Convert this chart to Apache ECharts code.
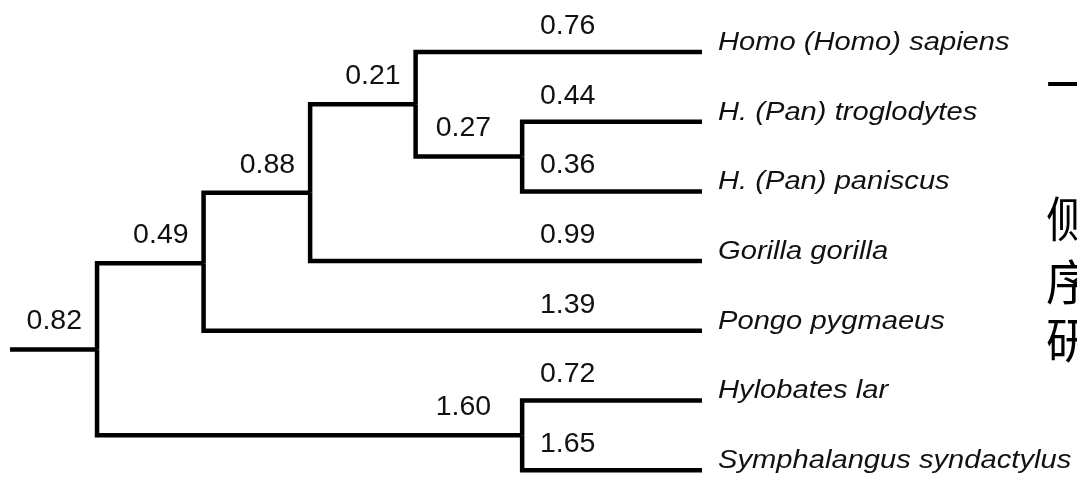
<!DOCTYPE html>
<html>
<head>
<meta charset="utf-8">
<script src="https://cdn.jsdelivr.net/npm/echarts@6/dist/echarts.min.js"></script>
<style>
  html, body { margin: 0; padding: 0; background: #fff; }
  #chart { width: 1077px; height: 478px; }
</style>
</head>
<body>
<div id="chart"></div>
<script>
// ---- Data ----
const leafNames = ['Homo (Homo) sapiens', 'H. (Pan) troglodytes', 'H. (Pan) paniscus',
  'Gorilla gorilla', 'Pongo pygmaeus', 'Hylobates lar', 'Symphalangus syndactylus'];
const leafBranch = ['0.76', '0.44', '0.36', '0.99', '1.39', '0.72', '1.65'];
const leafParent = ['homoPan', 'pan', 'pan', 'african', 'greatApes', 'gibbons', 'gibbons'];

const nodeIds = ['pan', 'homoPan', 'african', 'greatApes', 'gibbons', 'root'];
const nodeBranch = ['0.27', '0.21', '0.88', '0.49', '1.60', '0.82'];
const nodeParent = ['homoPan', 'african', 'greatApes', 'root', 'root', 'stem'];
const nodeDepth = [4.03, 3.02, 2.02, 1.01, 4.03, 0];
const nodeRow = [1.5, 0.75, 2.02, 3.03, 5.5, 4.27];

const leafDepth = 5.735;
const stemDepth = -0.825;

const sideText = ['一', '侧', '序', '研'];

// ---- Build edges ----
const pos = {};
nodeIds.forEach((id, i) => { pos[id] = [nodeDepth[i], nodeRow[i]]; });
pos.stem = [stemDepth, nodeRow[nodeIds.indexOf('root')]];

const edges = [];
leafNames.forEach((n, i) => {
  const p = pos[leafParent[i]];
  edges.push([p[0], p[1], leafDepth, i]);
});
nodeIds.forEach((id, i) => {
  const p = pos[nodeParent[i]];
  edges.push([p[0], p[1], nodeDepth[i], nodeRow[i]]);
});

// labels: [depth, row, kind(0=leaf branch,1=internal branch,2=leaf name), textIndex]
const labels = [];
leafNames.forEach((n, i) => {
  labels.push([leafDepth, i, 0, i]);
  labels.push([leafDepth, i, 2, i]);
});
nodeIds.forEach((id, i) => {
  labels.push([nodeDepth[i], nodeRow[i], 1, i]);
});

const internalDx = { pan: -31, gibbons: -31 };
const numFont = '"Liberation Sans", Arial, Helvetica, sans-serif';

const chart = echarts.init(document.getElementById('chart'), null, { renderer: 'canvas' });
chart.setOption({
  backgroundColor: '#ffffff',
  animation: false,
  grid: { left: 0, right: 0, top: 0, bottom: 0 },
  xAxis: { type: 'value', min: -0.92, max: 9.29, show: false },
  yAxis: { type: 'value', inverse: true, min: -0.746, max: 6.112, show: false },
  graphic: sideText.map((t, i) => ({
    type: 'text',
    x: 1046,
    y: [60, 195, 258, 316][i],
    silent: true,
    style: {
      text: t,
      fill: '#000',
      fontSize: 48,
      fontFamily: '"Noto Sans CJK SC", sans-serif',
      fontWeight: 'normal'
    }
  })),
  series: [
    {
      type: 'custom',
      coordinateSystem: 'cartesian2d',
      encode: { x: [0, 2], y: [1, 3] },
      data: edges,
      renderItem: function (params, api) {
        const px = api.value(0), py = api.value(1), cx = api.value(2), cy = api.value(3);
        const p0 = api.coord([px, py]);
        const p1 = api.coord([px, cy]);
        const p2 = api.coord([cx, cy]);
        return {
          type: 'polyline',
          shape: { points: [p0, p1, p2] },
          style: { stroke: '#000', lineWidth: 4.5, fill: null, lineJoin: 'miter', lineCap: 'butt' }
        };
      }
    },
    {
      type: 'custom',
      coordinateSystem: 'cartesian2d',
      encode: { x: 0, y: 1 },
      data: labels,
      renderItem: function (params, api) {
        const d = api.value(0), r = api.value(1), kind = api.value(2), idx = api.value(3);
        const p = api.coord([d, r]);
        if (kind === 0) {
          return {
            type: 'text', x: p[0] - 162, y: p[1] - 26,
            style: { text: leafBranch[idx], fill: '#111', fontSize: 28.5, fontFamily: numFont,
              align: 'left', verticalAlign: 'middle' }
          };
        } else if (kind === 1) {
          const dx = internalDx[nodeIds[idx]] !== undefined ? internalDx[nodeIds[idx]] : -15;
          return {
            type: 'text', x: p[0] + dx, y: p[1] - 28,
            style: { text: nodeBranch[idx], fill: '#111', fontSize: 28.5, fontFamily: numFont,
              align: 'right', verticalAlign: 'middle' }
          };
        }
        return {
          type: 'text', x: p[0] + 16, y: p[1] - 9.5, scaleX: 1.1,
          style: { text: leafNames[idx], fill: '#111', fontSize: 26.5, fontStyle: 'italic',
            fontFamily: numFont, align: 'left', verticalAlign: 'middle' }
        };
      }
    }
  ]
});
</script>
</body>
</html>
